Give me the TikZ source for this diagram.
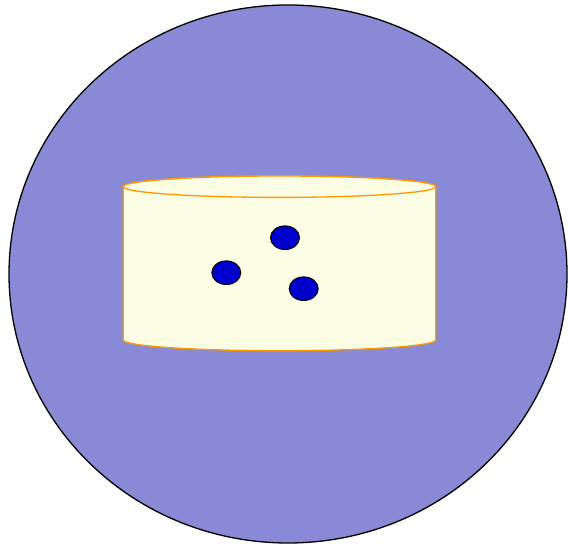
\documentclass[tikz,border=0pt]{standalone}
\usetikzlibrary{shapes.geometric}
\definecolor{cellblue}{RGB}{137,137,214}
\definecolor{cylfill}{RGB}{251,254,228}
\definecolor{cylline}{RGB}{255,153,0}
\definecolor{dotblue}{RGB}{0,0,204}
\begin{document}
\begin{tikzpicture}[x=1pt,y=1pt,
  cellstyle/.style={fill=cellblue,draw=black,line width=1.3pt},
  cylstyle/.style={fill=cylfill,draw=cylline,line width=1.3pt},
  dotstyle/.style={fill=dotblue,draw=black,line width=1pt}]
\useasboundingbox (0,0) rectangle (568,550);
\coordinate (cellc) at (288,276);
\draw[cellstyle] (cellc) ellipse [x radius=279pt, y radius=269pt];
\coordinate (cyltl) at (123.3,363.3);
\coordinate (cylbl) at (123.3,210);
\coordinate (cyltr) at (435.7,363.3);
\coordinate (cyltop) at (279.5,363.3);
\draw[cylstyle] (cyltl) -- (cylbl) arc[start angle=180,end angle=360,x radius=156.2pt,y radius=10.7pt] -- (cyltr) arc[start angle=0,end angle=180,x radius=156.2pt,y radius=10.7pt] -- cycle;
\draw[cylstyle] (cyltop) ellipse [x radius=156.2pt, y radius=10.7pt];
\coordinate (d1) at (285,312.3);
\coordinate (d2) at (226.3,277.3);
\coordinate (d3) at (303.7,261.3);
\foreach \d in {d1,d2,d3}
  \draw[dotstyle] (\d) ellipse [x radius=14.5pt, y radius=11.8pt];
\end{tikzpicture}
\end{document}
